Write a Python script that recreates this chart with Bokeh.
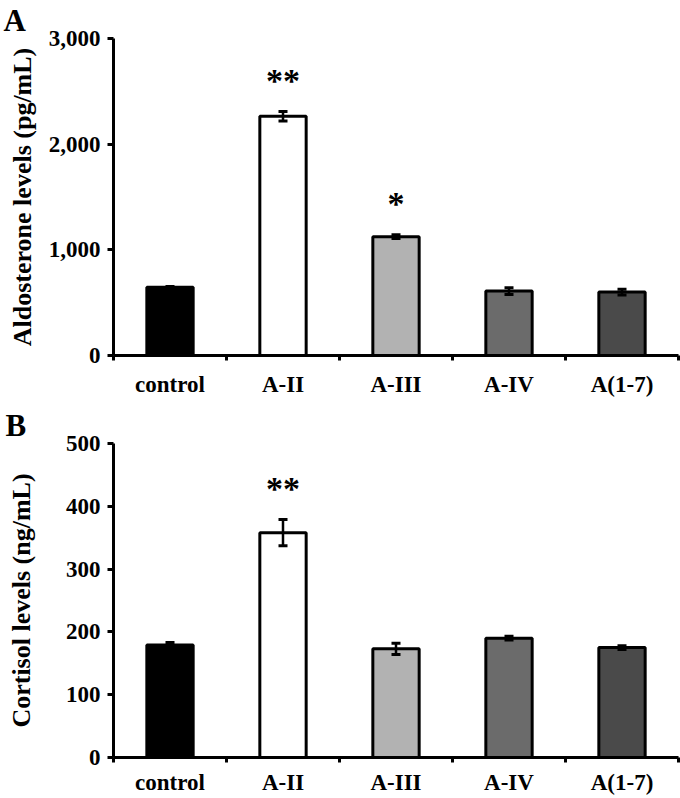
from bokeh.plotting import figure
from bokeh.models import (Range1d, FixedTicker, NumeralTickFormatter, Whisker,
                          ColumnDataSource, TeeHead)
from bokeh.layouts import column
from bokeh.embed import file_html
from bokeh.resources import INLINE
from bokeh.core.properties import value

# ---------------- data ----------------
categories = ["control", "A-II", "A-III", "A-IV", "A(1-7)"]
bar_colors = ["#000000", "#ffffff", "#b2b2b2", "#6b6b6b", "#4a4a4a"]

aldo_values = [646, 2265, 1125, 610, 600]
aldo_errors = [8, 45, 18, 32, 28]
aldo_marks = ["", "**", "*", "", ""]
aldo_ticks = [0, 1000, 2000, 3000]

cort_values = [179, 358, 173, 190, 175]
cort_errors = [4, 21, 9, 3, 3]
cort_marks = ["", "**", "", "", ""]
cort_ticks = [0, 100, 200, 300, 400, 500]

FONT = "Liberation Serif"
WIDTH = 680
BORDER_L = 113
BORDER_R = 2


def make_panel(values, errors, marks, ticks, ylabel, letter,
               height, border_top, border_bottom, label_standoff,
               xlabel_standoff, letter_offset):
    n = len(categories)
    xs = [i + 0.5 for i in range(n)]
    src = ColumnDataSource(dict(
        x=xs, top=values,
        lower=[v - e for v, e in zip(values, errors)],
        upper=[v + e for v, e in zip(values, errors)],
        color=bar_colors, mark=marks))

    ymax = ticks[-1]
    p = figure(width=WIDTH, height=height,
               x_range=Range1d(0, n), y_range=Range1d(0, ymax),
               output_backend="svg", toolbar_location=None,
               min_border_left=BORDER_L, min_border_right=BORDER_R,
               min_border_top=border_top, min_border_bottom=border_bottom)
    p.outline_line_color = None
    p.grid.visible = False
    p.background_fill_color = "white"

    # panel letter as the figure title, shifted left into the margin
    p.title.text = letter
    p.title.align = "left"
    p.title.offset = letter_offset
    p.title.standoff = 1
    p.title.text_font = FONT
    p.title.text_font_style = "bold"
    p.title.text_font_size = "31px"
    p.title.text_color = "black"

    p.vbar(x="x", top="top", bottom=0, width=0.41, fill_color="color",
           line_color="black", line_width=3, source=src)

    w = Whisker(base="x", lower="lower", upper="upper", source=src,
                line_color="black", line_width=2.5, level="overlay",
                upper_head=TeeHead(size=9, line_width=3, line_color="black"),
                lower_head=TeeHead(size=9, line_width=3, line_color="black"))
    p.add_layout(w)

    p.text(x="x", y="upper", text="mark", source=src, y_offset=-31,
           text_align="center", text_baseline="middle",
           text_font=value(FONT), text_font_style="bold",
           text_font_size="34px", text_color="black")

    # x axis: labels at centres, ticks at category boundaries
    xa = p.xaxis[0]
    xa.ticker = FixedTicker(ticks=xs, minor_ticks=list(range(n + 1)))
    xa.major_label_overrides = {x: c for x, c in zip(xs, categories)}
    xa.major_tick_line_color = None
    xa.major_tick_out = 0
    xa.major_tick_in = 0
    xa.minor_tick_line_color = "black"
    xa.minor_tick_line_width = 3
    xa.minor_tick_out = 5
    xa.minor_tick_in = 0
    xa.axis_line_width = 3
    xa.axis_line_color = "black"
    xa.major_label_standoff = xlabel_standoff
    xa.major_label_text_font = FONT
    xa.major_label_text_font_style = "bold"
    xa.major_label_text_font_size = "23px"
    xa.major_label_text_color = "black"

    ya = p.yaxis[0]
    ya.ticker = FixedTicker(ticks=ticks)
    ya.formatter = NumeralTickFormatter(format="0,0")
    ya.major_tick_out = 6
    ya.major_tick_in = 0
    ya.major_tick_line_width = 3
    ya.minor_tick_line_color = None
    ya.axis_line_width = 3
    ya.axis_line_color = "black"
    ya.major_label_standoff = 7
    ya.major_label_text_font = FONT
    ya.major_label_text_font_style = "bold"
    ya.major_label_text_font_size = "23px"
    ya.major_label_text_color = "black"
    ya.axis_label = ylabel
    ya.axis_label_standoff = label_standoff
    ya.axis_label_text_font = FONT
    ya.axis_label_text_font_style = "bold"
    ya.axis_label_text_font_size = "26px"
    ya.axis_label_text_color = "black"
    return p


p1 = make_panel(aldo_values, aldo_errors, aldo_marks, aldo_ticks,
                "Aldosterone levels (pg/mL)", "A", 400, 38, 45, 9, 11, -110)
p2 = make_panel(cort_values, cort_errors, cort_marks, cort_ticks,
                "Cortisol levels (ng/mL)", "B", 398, 43, 41, 27, 7, -108)

layout = column(p1, p2)
open("out.html", "w").write(file_html(layout, INLINE))
